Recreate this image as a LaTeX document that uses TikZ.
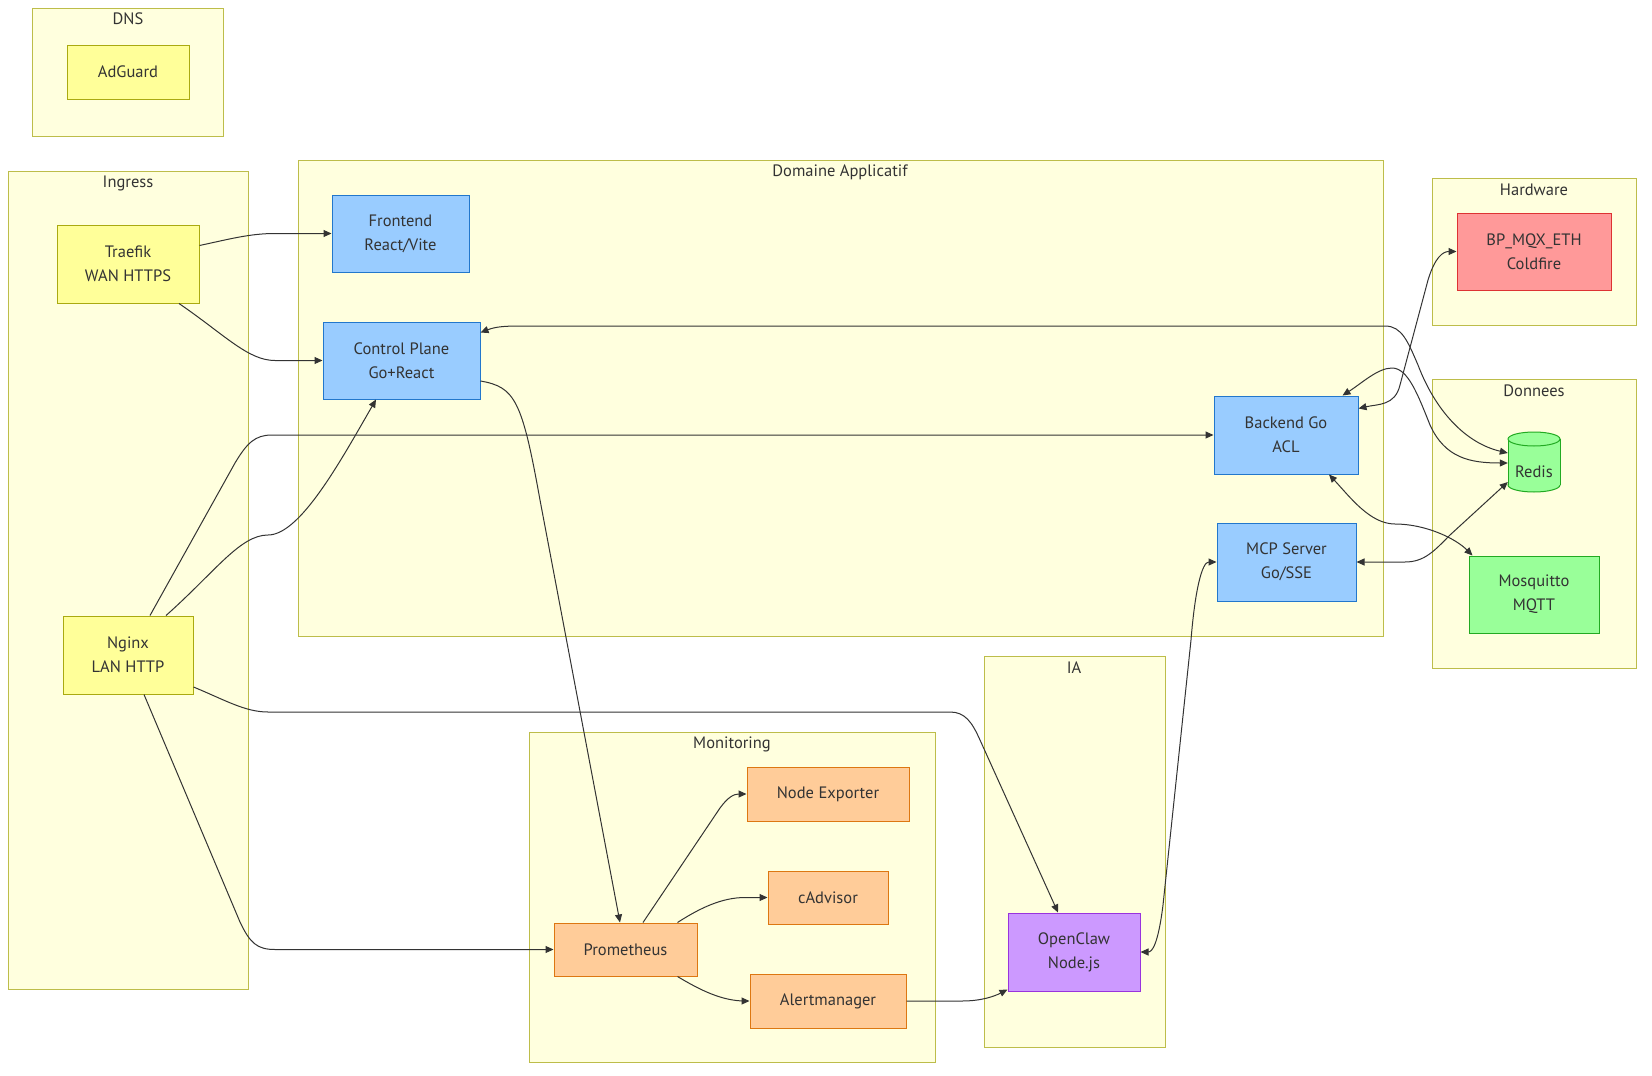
\documentclass[tikz,border=0pt]{standalone}
\usepackage{fontspec}
\setmainfont{PT Sans}
\usetikzlibrary{arrows.meta,calc}
\definecolor{clfill}{HTML}{FFFFDE}
\definecolor{cldraw}{HTML}{BDBD4A}
\definecolor{txt}{HTML}{333333}
\definecolor{ylfill}{HTML}{FFFF99}
\definecolor{yldraw}{HTML}{AAAA11}
\definecolor{blfill}{HTML}{99CCFF}
\definecolor{bldraw}{HTML}{2277CC}
\definecolor{rdfill}{HTML}{FF9999}
\definecolor{rddraw}{HTML}{DD3333}
\definecolor{gnfill}{HTML}{99FF99}
\definecolor{gndraw}{HTML}{22AA22}
\definecolor{orfill}{HTML}{FFCC99}
\definecolor{ordraw}{HTML}{DD7711}
\definecolor{pufill}{HTML}{CC99FF}
\definecolor{pudraw}{HTML}{9933DD}
\begin{document}
\begin{tikzpicture}[x=1pt,y=-1pt,
  cluster/.style={fill=clfill,draw=cldraw,line width=1pt},
  cllabel/.style={text=txt,font=\fontsize{16.5}{20}\selectfont,inner sep=0pt,anchor=center},
  box/.style={rectangle,line width=1pt,text=txt,align=center,font=\fontsize{16.5}{24}\selectfont,inner sep=0pt},
  ybox/.style={box,fill=ylfill,draw=yldraw},
  bbox/.style={box,fill=blfill,draw=bldraw},
  rbox/.style={box,fill=rdfill,draw=rddraw},
  gbox/.style={box,fill=gnfill,draw=gndraw},
  obox/.style={box,fill=orfill,draw=ordraw},
  pbox/.style={box,fill=pufill,draw=pudraw},
  edge/.style={draw=txt,line width=1pt,-{Triangle[length=8pt,width=7pt]}},
  biedge/.style={draw=txt,line width=1pt,{Triangle[length=8pt,width=7pt]}-{Triangle[length=8pt,width=7pt]}},
]
\useasboundingbox (0,0) rectangle (1652,1076);
\fill[white] (0,0) rectangle (1652,1076);

% clusters
\draw[cluster] (32,8) rectangle (223,136);
\node[cllabel] (lDNS) at (128,19) {DNS};
\draw[cluster] (8,171) rectangle (248,989);
\node[cllabel] (lIngress) at (128,183) {Ingress};
\draw[cluster] (298,160) rectangle (1383,636);
\node[cllabel] (lDomaine) at (840,172) {Domaine Applicatif};
\draw[cluster] (1432,178) rectangle (1636,325);
\node[cllabel] (lHardware) at (1534,190) {Hardware};
\draw[cluster] (1432,379) rectangle (1636,668);
\node[cllabel] (lDonnees) at (1534,391) {Donnees};
\draw[cluster] (984,656) rectangle (1165,1047);
\node[cllabel] (lIA) at (1074,668) {IA};
\draw[cluster] (529,732) rectangle (935,1062);
\node[cllabel] (lMonitoring) at (732,744) {Monitoring};

% nodes
\node[ybox,minimum width=122pt,minimum height=54pt] (adguard) at (128,72) {AdGuard};
\node[ybox,minimum width=142pt,minimum height=78pt] (traefik) at (128,264) {Traefik\\WAN HTTPS};
\node[ybox,minimum width=130pt,minimum height=78pt] (nginx) at (128,655) {Nginx\\LAN HTTP};
\node[bbox,minimum width=137pt,minimum height=77pt] (frontend) at (400.5,233.5) {Frontend\\React/Vite};
\node[bbox,minimum width=157pt,minimum height=77pt] (cp) at (401.5,360.5) {Control Plane\\Go+React};
\node[bbox,minimum width=144pt,minimum height=78pt] (backend) at (1286,435) {Backend Go\\ACL};
\node[bbox,minimum width=139pt,minimum height=78pt] (mcp) at (1286.5,562) {MCP Server\\Go/SSE};
\node[rbox,minimum width=154pt,minimum height=77pt] (bp) at (1534,251.5) {BP\_MQX\_ETH\\Coldfire};
\node[gbox,minimum width=130pt,minimum height=77pt] (mosq) at (1534,594.5) {Mosquitto\\MQTT};
\node[pbox,minimum width=132pt,minimum height=78pt] (openclaw) at (1074,952) {OpenClaw\\Node.js};
\node[obox,minimum width=162pt,minimum height=54pt] (nodeexp) at (828,794) {Node Exporter};
\node[obox,minimum width=120pt,minimum height=53pt] (cadvisor) at (828,897.5) {cAdvisor};
\node[obox,minimum width=143pt,minimum height=53pt] (prom) at (625.5,949.5) {Prometheus};
\node[obox,minimum width=156pt,minimum height=54pt] (alert) at (828,1001) {Alertmanager};

% Redis cylinder
\filldraw[fill=gnfill,draw=gndraw,line width=1pt] (1534,485) ellipse [x radius=26pt, y radius=7pt];
\fill[gnfill] (1508,439) rectangle (1560,485);
\draw[gndraw,line width=1pt] (1508,439) -- (1508,485) (1560,439) -- (1560,485);
\filldraw[fill=gnfill,draw=gndraw,line width=1pt] (1534,439) ellipse [x radius=26pt, y radius=7pt];
\node[inner sep=0pt,minimum width=52pt,minimum height=60pt] (redis) at (1534,462) {};
\node[box] (redistext) at (1534,472) {Redis};

% edges
\draw[edge] ($(traefik.north east)+(0,21)$) .. controls (230,239) and (250,233.5) .. (275,233.5) -- (frontend.west);
\draw[edge] ($(traefik.south)+(51,0)$) .. controls (225,335) and (248,360.5) .. (275,360.5) -- (cp.west);
\draw[edge] ($(nginx.north)+(38,0)$) .. controls (215,572) and (240,535) .. (268,535) .. controls (300,535) and (340,462) .. ($(cp.south)+(-25.5,0)$);
\draw[edge] ($(nginx.north)+(22,0)$) -- (235,463) .. controls (247,443) and (255,435) .. (272,435) -- (backend.west);
\draw[edge] ($(nginx.east)+(0,32)$) .. controls (225,700) and (245,712) .. (268,712) -- (950,712) .. controls (965,712) and (972,722) .. (980,740) -- ($(openclaw.north)+(-16,0)$);
\draw[edge] ($(nginx.south)+(16,0)$) -- (240,922) .. controls (250,943) and (257,949.5) .. (275,949.5) -- (prom.west);
\draw[edge] ($(cp.east)+(0,20.5)$) .. controls (515,387) and (522,400) .. (540,500) -- ($(prom.north)+(-5.5,0)$);
\draw[biedge] ($(cp.north east)+(0,11)$) .. controls (495,327) and (503,326) .. (520,326) -- (1385,326) .. controls (1402,326) and (1408,342) .. (1418,365) .. controls (1435,410) and (1465,443) .. ($(redis.west)+(0,-9)$);
\draw[biedge] ($(backend.north east)+(-16,0)$) .. controls (1362,383) and (1378,368) .. (1392,368) .. controls (1408,368) and (1418,395) .. (1430,425) .. controls (1445,458) and (1470,463) .. ($(redis.west)+(0,1)$);
\draw[biedge] ($(backend.north east)+(0,13)$) .. controls (1378,404) and (1395,406) .. (1400,385) -- (1428,280) .. controls (1435,257) and (1443,251.5) .. (bp.west);
\draw[biedge] ($(backend.south)+(43,0)$) .. controls (1350,497) and (1370,524) .. (1395,524) .. controls (1425,524) and (1455,538) .. ($(mosq.north west)+(4,0)$);
\draw[biedge] (mcp.east) -- (1405,562) .. controls (1425,562) and (1435,550) .. (1450,535) -- ($(redis.west)+(0,20)$);
\draw[biedge] (mcp.west) .. controls (1202,562) and (1195,590) .. (1191,640) -- (1163,905) .. controls (1158,945) and (1152,952) .. (openclaw.east);
\draw[edge] ($(prom.north)+(17.5,0)$) -- (720,808) .. controls (728,797) and (734,794) .. (nodeexp.west);
\draw[edge] ($(prom.north east)+(-20,0)$) .. controls (700,908) and (722,897.5) .. (745,897.5) -- (cadvisor.west);
\draw[edge] ($(prom.south east)+(-20,0)$) .. controls (700,990) and (722,1001) .. (745,1001) -- (alert.west);
\draw[edge] (alert.east) -- (962,1001) .. controls (982,1001) and (995,996) .. ($(openclaw.south west)+(0,-2)$);
\end{tikzpicture}
\end{document}
